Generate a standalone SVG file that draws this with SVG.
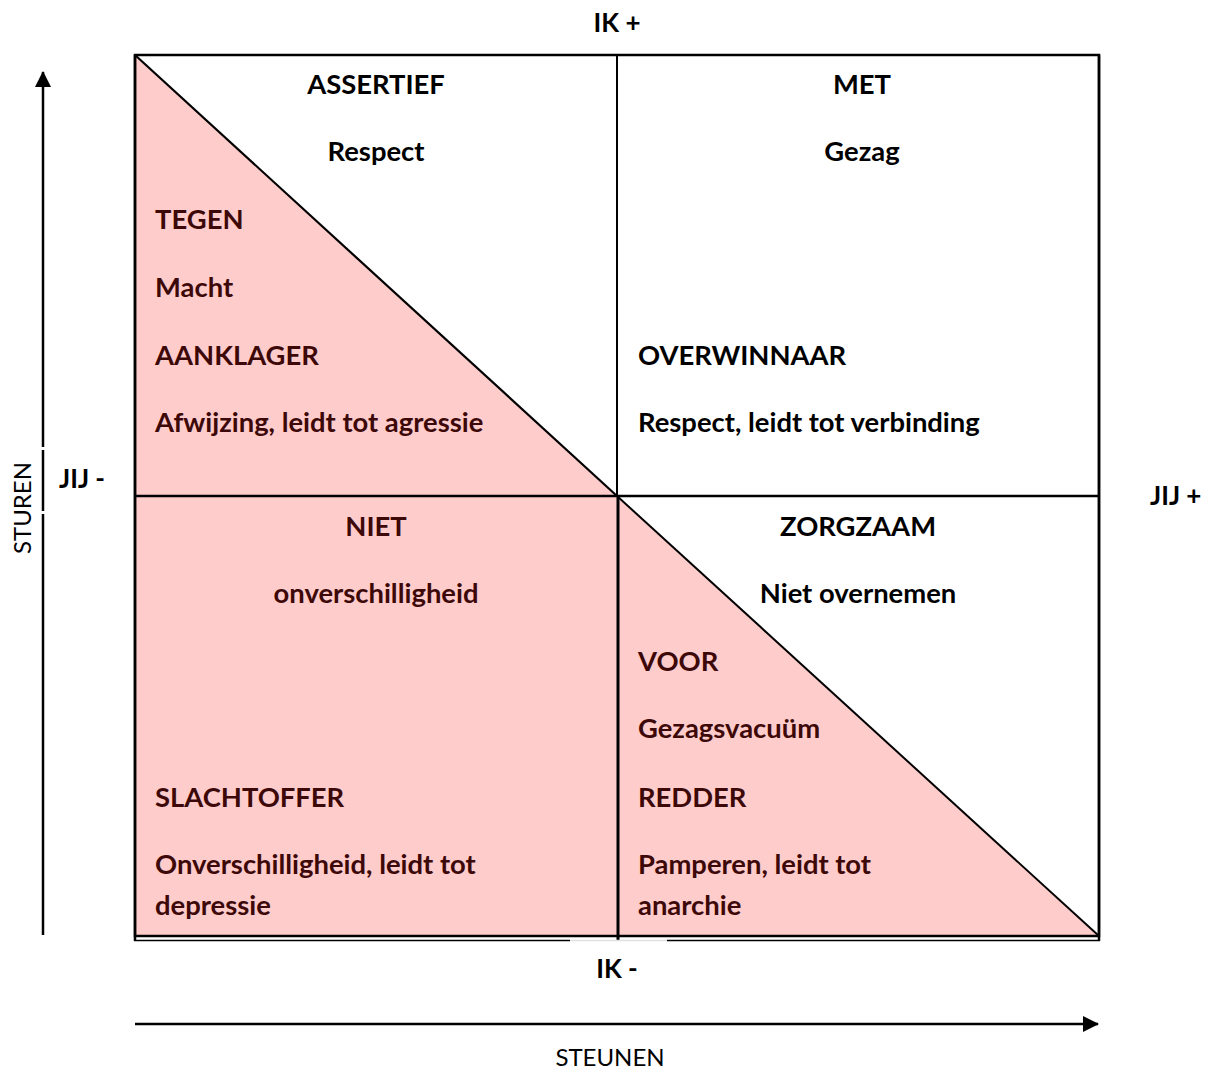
<svg xmlns="http://www.w3.org/2000/svg" width="1205" height="1071" viewBox="0 0 1205 1071">
<style>
  .t { font-family: Lato, "Open Sans", "Liberation Sans", sans-serif; font-weight: bold; font-size: 27.4px; }
  .s { font-size: 26px; }
  .k { fill: #000000; }
  .m { fill: #3d0808; }
  .c { text-anchor: middle; }
  .ax { font-family: Lato, "Open Sans", "Liberation Sans", sans-serif; font-size: 24px; fill: #000000; }
  .ln { stroke: #000000; fill: none; }
</style>
<defs>
  <marker id="arr" viewBox="0 0 16 16" refX="15" refY="8" markerWidth="16" markerHeight="16" markerUnits="userSpaceOnUse" orient="auto">
    <path d="M0,0 L16,8 L0,16 Z" fill="#000000"/>
  </marker>
</defs>
<rect width="1205" height="1071" fill="#ffffff"/>

<g id="fills">
  <polygon points="135,55 617,496 135,496" fill="#ffcccc"/>
  <rect x="135" y="496" width="482" height="440" fill="#ffcccc"/>
  <polygon points="617,496 1099,936 617,936" fill="#ffcccc"/>
</g>

<g id="grid">
  <rect x="135" y="55" width="964" height="881" class="ln" stroke-width="2.5"/>
  <line x1="617" y1="55" x2="617" y2="496" class="ln" stroke-width="2"/>
  <line x1="618" y1="496" x2="618" y2="940" class="ln" stroke-width="3"/>
  <line x1="135" y1="496" x2="1099" y2="496" class="ln" stroke-width="2.5"/>
  <line x1="135" y1="55" x2="617" y2="496" class="ln" stroke-width="2.2"/>
  <line x1="617" y1="496" x2="1099" y2="936" class="ln" stroke-width="2"/>
  <line x1="134" y1="940.5" x2="570" y2="940.5" class="ln" stroke-width="1.5"/>
  <line x1="570" y1="940.5" x2="667" y2="940.5" stroke="#e0e0e0" stroke-width="1.5"/>
  <line x1="667" y1="940.5" x2="1100" y2="940.5" class="ln" stroke-width="1.5"/>
  <line x1="1099" y1="55" x2="1099" y2="941" class="ln" stroke-width="2.5"/>
  <line x1="135" y1="55" x2="135" y2="941" class="ln" stroke-width="2.5"/>
</g>

<g id="connectors">
  <line x1="43" y1="935" x2="43" y2="514" class="ln" stroke-width="2.5"/>
  <line x1="43" y1="511" x2="43" y2="450" class="ln" stroke-width="2.5"/>
  <line x1="43" y1="447" x2="43" y2="72" class="ln" stroke-width="2.5" marker-end="url(#arr)"/>
  <line x1="135" y1="1024" x2="1098" y2="1024" class="ln" stroke-width="2.5" marker-end="url(#arr)"/>
</g>

<g id="axis-labels">
  <text class="t s k c" x="617" y="32">IK +</text>
  <text class="t s k c" x="617" y="978">IK -</text>
  <text class="t s k" x="59" y="488">JIJ -</text>
  <text class="t s k" x="1150" y="505">JIJ +</text>
  <text class="ax c" x="610" y="1066">STEUNEN</text>
  <text class="ax c" transform="translate(31,508) rotate(-90)" x="0" y="0">STUREN</text>
</g>

<g id="assertief">
  <text class="t k c" x="376" y="94">ASSERTIEF</text>
  <text class="t k c" x="376" y="161">Respect</text>
</g>
<g id="tegen">
  <text class="t m" x="155" y="229">TEGEN</text>
  <text class="t m" x="155" y="297">Macht</text>
  <text class="t m" x="155" y="365">AANKLAGER</text>
  <text class="t m" x="155" y="432">Afwijzing, leidt tot agressie</text>
</g>
<g id="met">
  <text class="t k c" x="862" y="94">MET</text>
  <text class="t k c" x="862" y="161">Gezag</text>
  <text class="t k" x="638" y="365">OVERWINNAAR</text>
  <text class="t k" x="638" y="432">Respect, leidt tot verbinding</text>
</g>
<g id="niet">
  <text class="t m c" x="376" y="536">NIET</text>
  <text class="t m c" x="376" y="603">onverschilligheid</text>
  <text class="t m" x="155" y="807">SLACHTOFFER</text>
  <text class="t m" x="155" y="874">Onverschilligheid, leidt tot</text>
  <text class="t m" x="155" y="915">depressie</text>
</g>
<g id="zorgzaam">
  <text class="t k c" x="858" y="536">ZORGZAAM</text>
  <text class="t k c" x="858" y="603">Niet overnemen</text>
</g>
<g id="voor">
  <text class="t m" x="638" y="671">VOOR</text>
  <text class="t m" x="638" y="738">Gezagsvacuüm</text>
  <text class="t m" x="638" y="807">REDDER</text>
  <text class="t m" x="638" y="874">Pamperen, leidt tot</text>
  <text class="t m" x="638" y="915">anarchie</text>
</g>
</svg>
